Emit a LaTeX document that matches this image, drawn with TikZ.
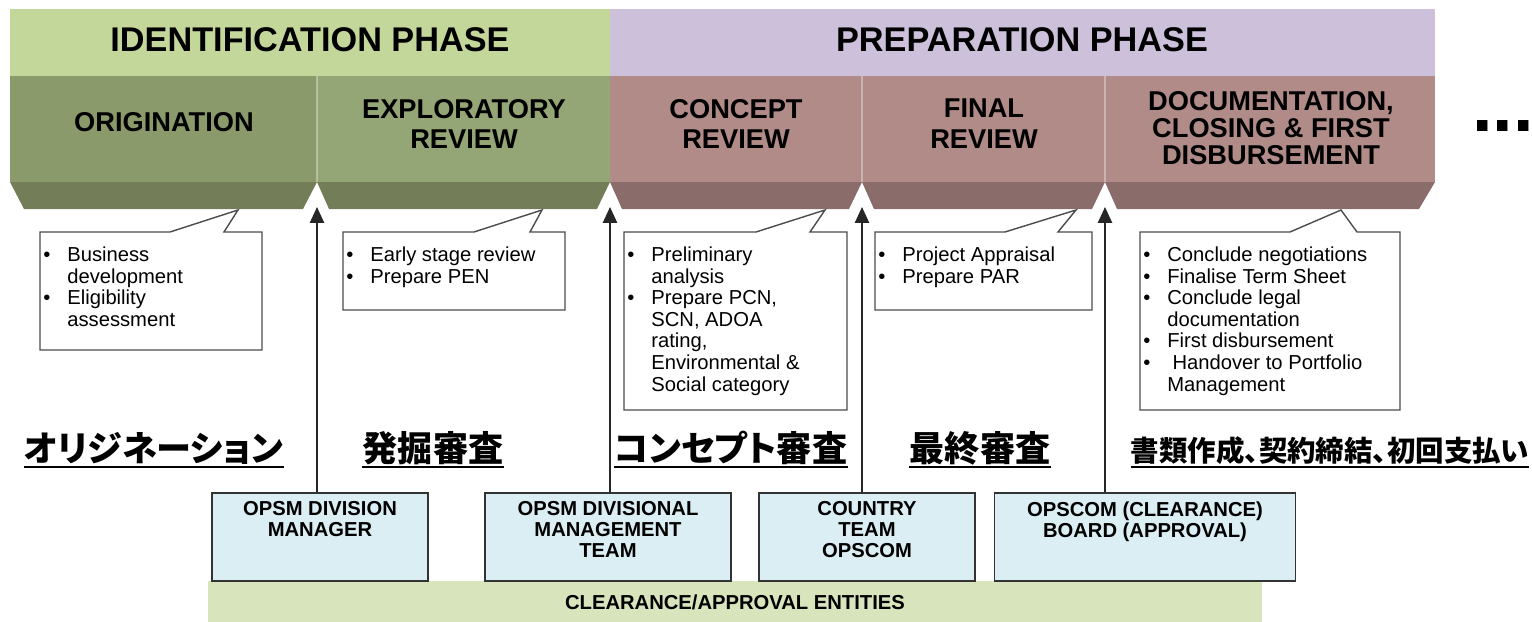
\documentclass[tikz,border=0pt]{standalone}
\usepackage{fontspec}
\setmainfont{Liberation Sans}
\newfontfamily\jpfont[RawFeature=+palt]{Noto Sans CJK JP}
\usetikzlibrary{arrows.meta}

\definecolor{idgreen}{HTML}{C4D79B}
\definecolor{prpurple}{HTML}{CCC0DA}
\definecolor{stgreenA}{HTML}{8A9A6A}
\definecolor{stgreenB}{HTML}{95A676}
\definecolor{bvgreen}{HTML}{737E59}
\definecolor{strose}{HTML}{B08B88}
\definecolor{bvrose}{HTML}{8A6D6B}
\definecolor{entityblue}{HTML}{DAEEF3}
\definecolor{barfill}{HTML}{D8E4BC}

% bullet lists inside the callouts
\newenvironment{bullets}{\begin{tabular}[t]{@{}p{0.48cm}@{}l@{}}}{\end{tabular}}
\newcommand\bul{\textbullet}

\tikzset{
    phase/.style={font=\bfseries\fontsize{19.5}{22}\selectfont, inner sep=0pt},
    stage/.style={font=\bfseries\fontsize{15.5}{17.5}\selectfont, align=center, inner sep=0pt},
    callout/.style={draw=black!70, line width=0.8pt, fill=white},
    note/.style={font=\fontsize{11.5}{12.3}\selectfont, inner sep=0pt, anchor=north west},
    entity/.style={draw=black!80, line width=0.8pt, fill=entityblue,
                   minimum height=1.76cm},
    entitytext/.style={font=\bfseries\fontsize{11.5}{12}\selectfont, align=center,
                       inner sep=0pt, anchor=north},
    bar/.style={fill=barfill, minimum width=21.08cm, minimum height=0.84cm,
                font=\bfseries\fontsize{11.5}{12}\selectfont},
    flow/.style={-{Triangle[length=9pt, width=8pt]}, line width=1.1pt, black!85},
    jplabel/.style={font=\jpfont\bfseries\fontsize{20}{24}\selectfont, inner sep=0pt,
                    anchor=base},
    uline/.style={line width=1.1pt},
}

\begin{document}
\begin{tikzpicture}[x=0.02cm, y=-0.02cm]
    \useasboundingbox (0,0) rectangle (1532,622);

    % phase bands
    \fill[idgreen] (10,9) rectangle (610,76);
    \fill[prpurple] (610,9) rectangle (1435,76);
    \node[phase] (idphase) at (310,40) {IDENTIFICATION PHASE};
    \node[phase] (prphase) at (1022,40) {PREPARATION PHASE};

    % stage row with bevelled lower edge
    \foreach \l/\r/\c/\b/\il/\ir in {10/317/stgreenA/bvgreen/14/14,
            317/610/stgreenB/bvgreen/12/13, 610/862/strose/bvrose/12/13,
            862/1105/strose/bvrose/12/13, 1105/1435/strose/bvrose/12/16} {
        \fill[\c] (\l,76) rectangle (\r,182);
        \fill[\b] (\l,182) -- (\r,182) -- (\r-\ir,209) -- (\l+\il,209) -- cycle;
    }
    \foreach \x in {317,862,1105}
        \draw[white, opacity=0.35, line width=0.6pt] (\x,76) -- (\x,182);

    \node[stage] (orig) at (164,122) {ORIGINATION};
    \node[stage] (expl) at (464,124) {EXPLORATORY\\REVIEW};
    \node[stage] (conc) at (736,124) {CONCEPT\\REVIEW};
    \node[stage] (final) at (984,124) {FINAL\\REVIEW};
    \node[stage, font=\bfseries\fontsize{15.5}{15.3}\selectfont] (docu) at (1271,128)
        {DOCUMENTATION,\\CLOSING \& FIRST\\DISBURSEMENT};
    \node[font=\bfseries\fontsize{42}{42}\selectfont, inner sep=0pt] (more) at (1503,126) {...};

    % callouts
    \foreach \l/\r/\bot/\pa/\pb/\tx in {40/262/350/170/224/238, 343/565/310/474/530/542,
            624/847/410/756/810/825, 875/1092/310/1005/1058/1076,
            1140/1400/410/1290/1357/1341}
        \draw[callout] (\l,232) -- (\pa,232) -- (\tx,210) -- (\pb,232) -- (\r,232)
            -- (\r,\bot) -- (\l,\bot) -- cycle;

    \node[note] (n1) at (43,246) {\begin{bullets}
        \bul & Business\\ & development\\ \bul & Eligibility\\ & assessment
        \end{bullets}};
    \node[note] (n2) at (346,246) {\begin{bullets}
        \bul & Early stage review\\ \bul & Prepare PEN
        \end{bullets}};
    \node[note] (n3) at (627,246) {\begin{bullets}
        \bul & Preliminary\\ & analysis\\ \bul & Prepare PCN,\\ & SCN, ADOA\\ & rating,\\
        & Environmental \&\\ & Social category
        \end{bullets}};
    \node[note] (n4) at (878,246) {\begin{bullets}
        \bul & Project Appraisal\\ \bul & Prepare PAR
        \end{bullets}};
    \node[note] (n5) at (1143,246) {\begin{bullets}
        \bul & Conclude negotiations\\ \bul & Finalise Term Sheet\\ \bul & Conclude legal\\
        & documentation\\ \bul & First disbursement\\ \bul & \hspace{3pt}Handover to Portfolio\\
        & Management
        \end{bullets}};

    % japanese stage names
    \node[jplabel] (jorig) at (154,461) {オリジネーション};
    \node[jplabel] (jexpl) at (433,461) {発掘審査};
    \node[jplabel] (jconc) at (731,461) {コンセプト審査};
    \node[jplabel] (jfinal) at (980,461) {最終審査};
    \node[jplabel, font=\jpfont\bfseries\fontsize{16.2}{18}\selectfont] (jdocu) at (1330,461)
        {書類作成、契約締結、初回支払い};
    \foreach \n in {jorig,jexpl,jconc,jfinal,jdocu}
        \draw[uline] ([yshift=-3.4pt]\n.base west) -- ([yshift=-3.4pt]\n.base east);

    % clearance / approval entities
    \node[bar] (entities) at (735,602) {CLEARANCE/APPROVAL ENTITIES};
    \node[entity, minimum width=4.32cm] (e1) at (320,537) {};
    \node[entity, minimum width=4.92cm] (e2) at (608,537) {};
    \node[entity, minimum width=4.32cm] (e3) at (867,537) {};
    \node[entity, minimum width=6.02cm] (e4) at (1145,537) {};
    \node[entitytext] (e1t) at ([yshift=-0.18cm]e1.north) {OPSM DIVISION\\MANAGER};
    \node[entitytext] (e2t) at ([yshift=-0.18cm]e2.north) {OPSM DIVISIONAL\\MANAGEMENT\\TEAM};
    \node[entitytext] (e3t) at ([yshift=-0.18cm]e3.north) {COUNTRY\\TEAM\\OPSCOM};
    \node[entitytext] (e4t) at ([yshift=-0.18cm]e4.north) {OPSCOM (CLEARANCE)\\BOARD (APPROVAL)};

    \coordinate (t1) at (317,207);
    \coordinate (t2) at (610,207);
    \coordinate (t3) at (862,207);
    \coordinate (t4) at (1105,207);
    \draw[flow] (e1.north -| t1) -- (t1);
    \draw[flow] (e2.north -| t2) -- (t2);
    \draw[flow] (e3.north -| t3) -- (t3);
    \draw[flow] (e4.north -| t4) -- (t4);

\end{tikzpicture}
\end{document}
